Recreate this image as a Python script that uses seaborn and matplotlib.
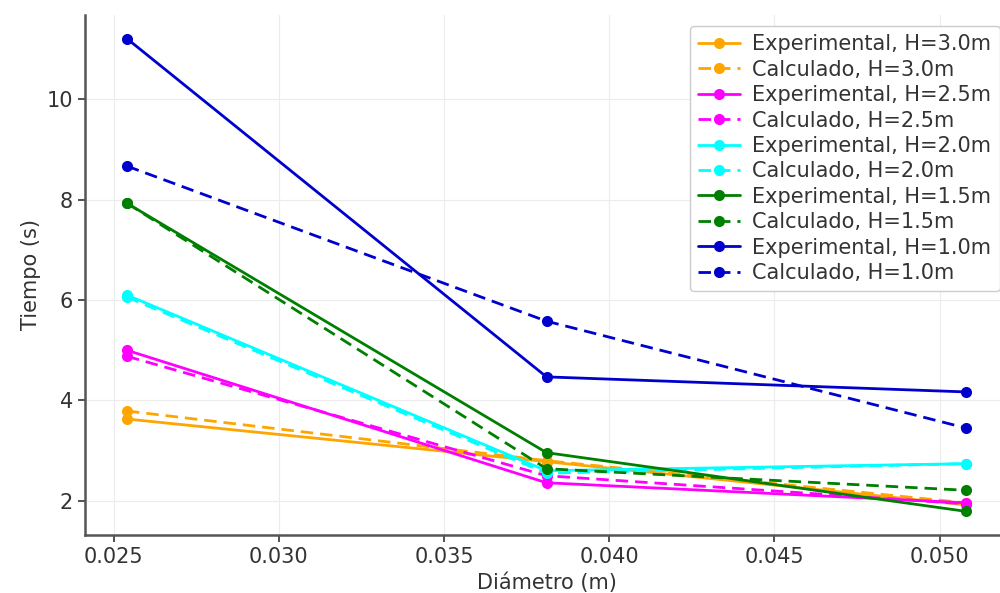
import matplotlib
matplotlib.use("Agg")
import matplotlib.pyplot as plt
import seaborn as sns
import pandas as pd

# Pipe diameters (m)
diametros = [0.0254, 0.0381, 0.0508]

# Drain times (s) for each head H
alturas = ["3.0", "2.5", "2.0", "1.5", "1.0"]
exp_30 = [3.63, 2.78, 1.92]
calc_30 = [3.79, 2.80, 1.96]
exp_25 = [5.00, 2.36, 1.96]
calc_25 = [4.88, 2.50, 1.94]
exp_20 = [6.10, 2.60, 2.74]
calc_20 = [6.06, 2.55, 2.74]
exp_15 = [7.93, 2.96, 1.79]
calc_15 = [7.93, 2.64, 2.21]
exp_10 = [11.21, 4.47, 4.17]
calc_10 = [8.67, 5.58, 3.45]

colores = ["orange", "magenta", "cyan", "green", "mediumblue"]
experimental = [exp_30, exp_25, exp_20, exp_15, exp_10]
calculado = [calc_30, calc_25, calc_20, calc_15, calc_10]

sns.set_style("whitegrid", {"grid.color": "#ececec", "axes.edgecolor": "#555555"})
plt.rcParams["font.family"] = ["DejaVu Sans"]

fig = plt.figure(figsize=(10, 5.93), dpi=100)
ax = fig.add_axes([0.085, (593 - 535) / 593, 0.923, (535 - 15) / 593])

for h, color, e, c in zip(alturas, colores, experimental, calculado):
    df_e = pd.DataFrame({"Diámetro (m)": diametros, "Tiempo (s)": e})
    df_c = pd.DataFrame({"Diámetro (m)": diametros, "Tiempo (s)": c})
    sns.lineplot(data=df_e, x="Diámetro (m)", y="Tiempo (s)", ax=ax, color=color,
                 marker="o", markersize=8, markeredgewidth=0, linewidth=2,
                 label=f"Experimental, H={h}m")
    sns.lineplot(data=df_c, x="Diámetro (m)", y="Tiempo (s)", ax=ax, color=color,
                 marker="o", markersize=8, markeredgewidth=0, linewidth=2,
                 linestyle=(0, (4.5, 2.5)), label=f"Calculado, H={h}m")

sns.despine(ax=ax, top=True, right=True)
ax.spines["left"].set_linewidth(1.8)
ax.spines["bottom"].set_linewidth(1.8)
ax.set_xticks([0.025, 0.030, 0.035, 0.040, 0.045, 0.050])
ax.set_xticklabels(["0.025", "0.030", "0.035", "0.040", "0.045", "0.050"])
ax.set_yticks([2, 4, 6, 8, 10])
ax.tick_params(axis="both", labelsize=15, colors="#333333", length=5, width=1.2,
               direction="out", bottom=True, left=True)
ax.set_xlabel("Diámetro (m)", fontsize=15, color="#333333")
ax.set_ylabel("Tiempo (s)", fontsize=15, color="#333333")
ax.margins(x=0.05, y=0.05)

leg = ax.legend(loc="upper right", bbox_to_anchor=(0.991, 0.979), fontsize=15,
                borderaxespad=0, frameon=True, handlelength=2.0, handletextpad=0.6,
                labelspacing=0.26, borderpad=0.4, framealpha=1)
leg.get_frame().set_edgecolor("#cccccc")
for t in leg.get_texts():
    t.set_color("#333333")

fig.savefig("out.png", dpi=100)
